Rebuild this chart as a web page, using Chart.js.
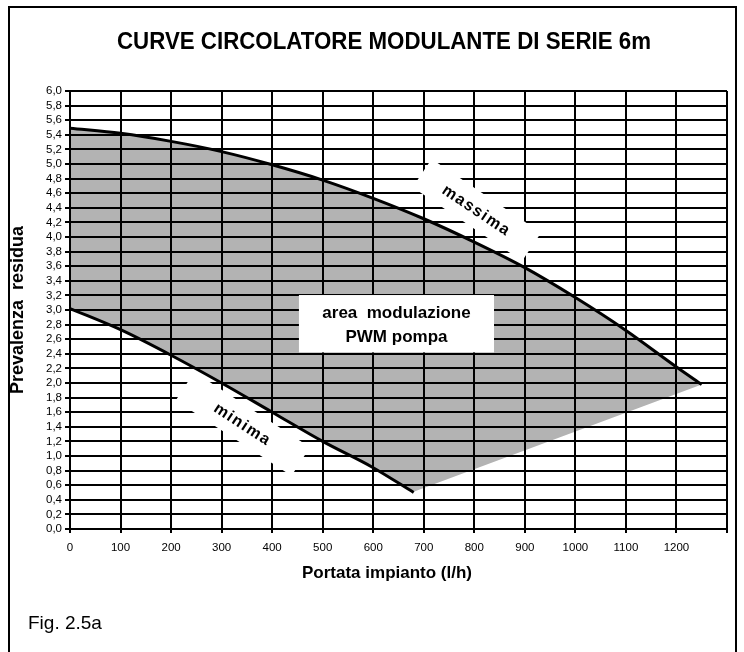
<!DOCTYPE html>
<html><head><meta charset="utf-8">
<script src="https://cdn.jsdelivr.net/npm/chart.js@4.4.1/dist/chart.umd.min.js"></script>
<style>
html,body{margin:0;padding:0;background:#fff;}
#wrap{position:relative;width:744px;height:652px;overflow:hidden;background:#fff;}
#frame{position:absolute;left:8px;top:6px;width:729px;height:720px;border:2px solid #000;box-sizing:border-box;}
#c{position:absolute;left:0;top:0;}
</style></head><body>
<div id="wrap"><div id="frame"></div><canvas id="c" width="744" height="652"></canvas></div>
<script>
// ---- text ----
const chartTitle = 'CURVE CIRCOLATORE MODULANTE DI SERIE 6m';
const xTitle = 'Portata impianto (l/h)';
const yTitle = 'Prevalenza  residua';
const figLabel = 'Fig. 2.5a';
const labelMassima = 'massima';
const labelMinima = 'minima';
const areaLines = ['area  modulazione', 'PWM pompa'];

// ---- tick labels ----
const xTickLabels = ['0','100','200','300','400','500','600','700','800','900','1000','1100','1200'];
const yTickLabels = ['0,0','0,2','0,4','0,6','0,8','1,0','1,2','1,4','1,6','1,8','2,0','2,2','2,4','2,6','2,8',
  '3,0','3,2','3,4','3,6','3,8','4,0','4,2','4,4','4,6','4,8','5,0','5,2','5,4','5,6','5,8','6,0'];

// ---- series values ----
const massimaX = [0,100,200,300,400,500,600,700,800,900,1000,1100,1200,1250];
const massimaY = [5.49,5.42,5.31,5.17,4.99,4.78,4.53,4.25,3.93,3.58,3.17,2.72,2.22,1.98];
const minimaX = [0,100,200,300,400,500,600,680];
const minimaY = [3.02,2.73,2.38,2.00,1.60,1.20,0.84,0.50];
const areaEdgeX = [676,1250];   // straight lower-right edge of the modulation area
const areaEdgeY = [0.50,1.98];

const toPts = (xs, ys) => xs.map((x, i) => ({x, y: ys[i]}));
const massimaPts = toPts(massimaX, massimaY);
const minimaPts = toPts(minimaX, minimaY);
const edgePts = toPts(areaEdgeX, areaEdgeY);

// ---- annotation placement (data coordinates) ----
const annot = {
  massima: {x: 805, y: 4.37, angle: 34, w: 132, h: 34},
  minima:  {x: 342, y: 1.44, angle: 33, w: 138, h: 34},
  area:    {x1: 453, x2: 839, y1: 3.205, y2: 2.42, cx: 646, line1: 2.96, line2: 2.63}
};

const FONT = '"Liberation Sans", Arial, Helvetica, sans-serif';
const GRAY = '#b3b3b3';

const annotPlugin = {
  id: 'annot',
  beforeDatasetsDraw(chart) {
    const ctx = chart.ctx, xs = chart.scales.x, ys = chart.scales.y;
    ctx.save();
    [[annot.massima, labelMassima], [annot.minima, labelMinima]].forEach(([a, t]) => {
      const px = xs.getPixelForValue(a.x), py = ys.getPixelForValue(a.y);
      ctx.save();
      ctx.translate(px, py);
      ctx.rotate(a.angle * Math.PI / 180);
      ctx.fillStyle = '#fff';
      ctx.fillRect(-a.w / 2, -a.h / 2, a.w, a.h);
      ctx.fillStyle = '#000';
      ctx.font = 'bold 16px ' + FONT;
      ctx.letterSpacing = '1.5px';
      ctx.textAlign = 'center';
      ctx.textBaseline = 'middle';
      ctx.fillText(t, 0, 1);
      ctx.restore();
    });
    const b = annot.area;
    const x1 = xs.getPixelForValue(b.x1), x2 = xs.getPixelForValue(b.x2);
    const y1 = ys.getPixelForValue(b.y1), y2 = ys.getPixelForValue(b.y2);
    ctx.fillStyle = '#fff';
    ctx.fillRect(x1, y1, x2 - x1, y2 - y1);
    ctx.fillStyle = '#000';
    ctx.font = 'bold 17px ' + FONT;
    ctx.textAlign = 'center';
    ctx.textBaseline = 'middle';
    const cx = xs.getPixelForValue(b.cx);
    ctx.fillText(areaLines[0], cx, ys.getPixelForValue(b.line1));
    ctx.fillText(areaLines[1], cx, ys.getPixelForValue(b.line2));
    ctx.restore();
  },
  afterDraw(chart) {
    const ctx = chart.ctx;
    ctx.save();
    ctx.fillStyle = '#000';
    ctx.font = 'bold 24px ' + FONT;
    const tw = ctx.measureText(chartTitle).width;
    ctx.translate(384, 49);
    ctx.scale(534 / tw, 1.0);
    ctx.textAlign = 'center';
    ctx.textBaseline = 'alphabetic';
    ctx.fillText(chartTitle, 0, 0);
    ctx.restore();
    ctx.save();
    ctx.fillStyle = '#000';
    ctx.font = 'bold 17px ' + FONT;
    ctx.textAlign = 'center';
    ctx.textBaseline = 'middle';
    ctx.fillText(xTitle, 387, 573);
    ctx.font = '19px ' + FONT;
    ctx.textAlign = 'left';
    ctx.fillText(figLabel, 28, 624);
    ctx.restore();
  }
};

new Chart(document.getElementById('c'), {
  type: 'line',
  data: {
    datasets: [
      {
        label: 'minima',
        data: minimaPts,
        borderColor: '#000',
        borderWidth: 3,
        pointRadius: 0,
        backgroundColor: GRAY,
        fill: 1,
        cubicInterpolationMode: 'monotone'
      },
      {
        label: 'massima',
        data: massimaPts,
        borderColor: '#000',
        borderWidth: 3,
        pointRadius: 0,
        backgroundColor: GRAY,
        fill: 2,
        cubicInterpolationMode: 'monotone'
      },
      {
        label: 'area edge',
        data: edgePts,
        borderWidth: 0,
        borderColor: 'rgba(0,0,0,0)',
        pointRadius: 0,
        fill: false,
        tension: 0
      }
    ]
  },
  options: {
    responsive: false,
    animation: false,
    devicePixelRatio: 1,
    layout: {padding: {left: 0, right: 17, top: 91, bottom: 83}},
    plugins: {
      legend: {display: false},
      tooltip: {enabled: false},
      filler: {drawTime: 'beforeDraw', propagate: false}
    },
    scales: {
      x: {
        type: 'linear', min: 0, max: 1300,
        afterFit: s => { s.height = 40; },
        ticks: {
          stepSize: 100, autoSkip: false, maxRotation: 0, padding: 8,
          color: '#000', font: {family: FONT, size: 11.5},
          callback: v => xTickLabels[Math.round(v / 100)] ?? ''
        },
        grid: {color: '#000', lineWidth: 2, tickLength: 4, drawTicks: true},
        border: {color: '#000', width: 2}
      },
      y: {
        type: 'linear', min: 0, max: 6,
        afterFit: s => { s.width = 70; },
        ticks: {
          stepSize: 0.2, autoSkip: false, padding: 3,
          color: '#000', font: {family: FONT, size: 11.5},
          callback: v => yTickLabels[Math.round(v / 0.2)] ?? ''
        },
        grid: {color: '#000', lineWidth: 2, tickLength: 5},
        border: {color: '#000', width: 2},
        title: {
          display: true, text: yTitle, color: '#000',
          font: {family: FONT, size: 18, weight: 'bold'},
          padding: {top: 7, bottom: 0}
        }
      }
    }
  },
  plugins: [annotPlugin]
});
</script>
</body></html>
